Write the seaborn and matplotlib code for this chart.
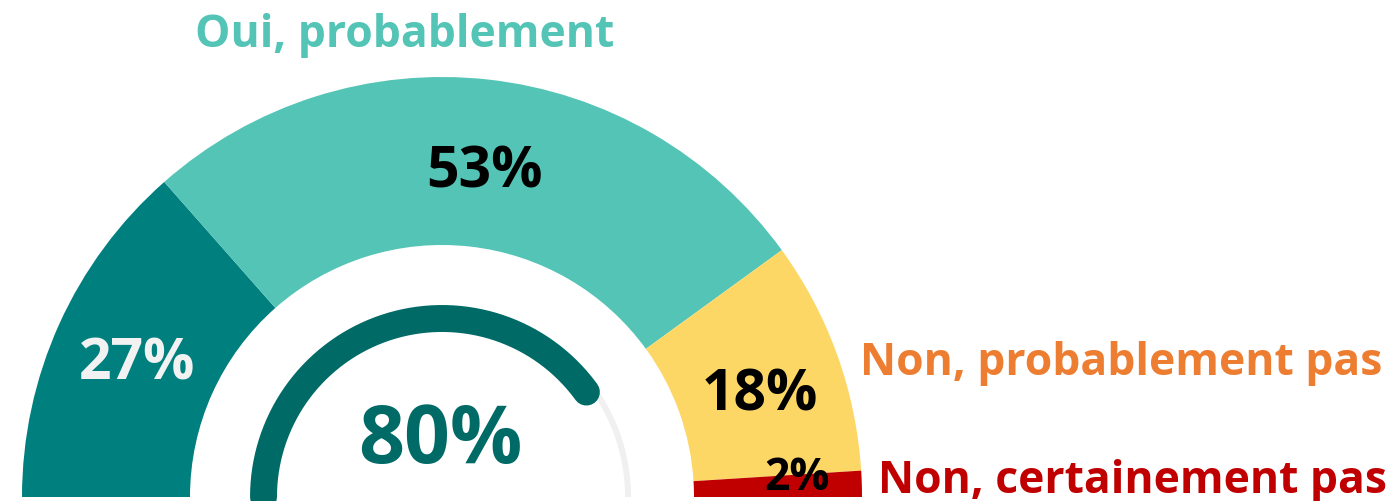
import matplotlib
matplotlib.use("Agg")
import matplotlib.pyplot as plt
import seaborn as sns
import numpy as np

# Données
categories = ["Oui, certainement", "Oui, probablement", "Non, probablement pas", "Non, certainement pas"]
values = [27, 53, 18, 2]
value_labels = ["27%", "53%", "18%", "2%"]
colors = ["#007F7F", "#53C4B5", "#FDD766", "#C00000"]
label_colors = ["#F2F2F2", "#000000", "#000000", "#000000"]
total_oui = 80
total_label = "80%"

sns.set_style("white")
plt.rcParams["font.family"] = ["Open Sans", "DejaVu Sans"]

fig = plt.figure(figsize=(13.99, 5.01), dpi=100)
ax = fig.add_axes([0, 0, 1, 1])

# demi-donut : la moitié basse est invisible
ax.pie(values + [sum(values)], colors=colors + ["none"], startangle=180,
       counterclock=False, radius=1.0,
       wedgeprops=dict(width=0.4, linewidth=0))

# jauge intérieure
theta_track = np.linspace(np.pi, 0, 200)
ax.plot(0.443 * np.cos(theta_track), 0.443 * np.sin(theta_track),
        color="#F0F0F0", lw=4.3, solid_capstyle="butt")
theta_val = np.linspace(np.pi, np.pi * (1 - total_oui / 100), 200)
ax.plot(0.425 * np.cos(theta_val), 0.425 * np.sin(theta_val),
        color="#006A66", lw=19.4, solid_capstyle="round")

# étiquettes des valeurs
val_pos = [(-0.726, 0.279), (0.102, 0.738), (0.757, 0.207), (0.845, 0.0167)]
val_size = [41, 41, 41, 32]
for (x, y), lab, c, s in zip(val_pos, value_labels, label_colors, val_size):
    ax.text(x, y, lab, ha="center", va="baseline", fontsize=s,
            fontweight="bold", color=c)

ax.text(-0.005, 0.081, total_label, ha="center", va="baseline", fontsize=58,
        fontweight="bold", color="#006A66")

# noms des catégories
ax.text(-0.088, 1.071, categories[1], ha="center", va="baseline", fontsize=32,
        fontweight="bold", color="#53C4B5")
ax.text(0.995, 0.290, categories[2], ha="left", va="baseline", fontsize=32,
        fontweight="bold", color="#ED7D31")
ax.text(1.038, 0.0095, categories[3], ha="left", va="baseline", fontsize=32,
        fontweight="bold", color="#C00000")

ax.set_xlim(-1.0524, 2.2786)
ax.set_ylim(-0.0095, 1.1833)
ax.set_aspect("equal")
ax.axis("off")

fig.savefig("out.png", dpi=100, facecolor="white")
